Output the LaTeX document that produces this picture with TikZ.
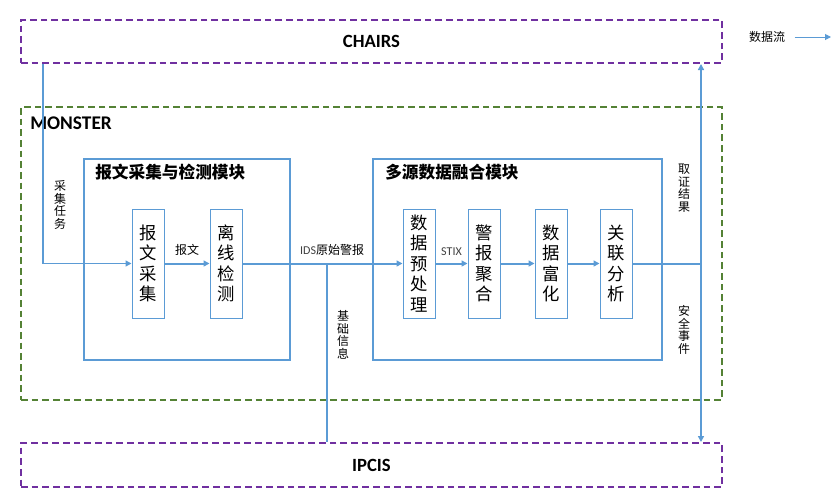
\documentclass[tikz,border=0pt]{standalone}
\usepackage{fontspec}
\setmainfont{Carlito}
\newfontfamily\cjk{Noto Sans CJK SC}
\usetikzlibrary{arrows.meta, positioning}
\definecolor{sysline}{RGB}{112,48,160}
\definecolor{monline}{RGB}{84,130,53}
\definecolor{flowblue}{RGB}{91,155,213}
\tikzstyle{sysbox} = [draw=sysline, line width=1.5pt, dash pattern=on 5pt off 3pt, minimum width=525.75pt, inner sep=0pt, font=\bfseries\fontsize{14}{16}\selectfont]
\tikzstyle{monbox} = [draw=monline, line width=1.5pt, dash pattern=on 5pt off 3pt, minimum width=525.75pt, minimum height=219.75pt, inner sep=0pt]
\tikzstyle{modbox} = [draw=flowblue, line width=1.5pt, minimum height=150.75pt, inner sep=0pt]
\tikzstyle{modtitle} = [anchor=west, inner sep=0pt, font=\cjk\bfseries\fontsize{12.5}{14}\selectfont]
\tikzstyle{procbox} = [draw=flowblue, line width=0.75pt, minimum width=24pt, minimum height=81.75pt, inner sep=0pt, align=center, font=\cjk\fontsize{13}{15.3}\selectfont]
\tikzstyle{lbl} = [font=\cjk\fontsize{9}{9.4}\selectfont]
\tikzstyle{vlbl} = [align=center, inner sep=0pt, font=\cjk\fontsize{9}{9.4}\selectfont]
\tikzstyle{flow} = [-{Triangle[length=4.5pt, width=4.5pt]}, draw=flowblue, line width=1.5pt]
\tikzstyle{link} = [draw=flowblue, line width=1.1pt]

\begin{document}
\begin{tikzpicture}[x=0.75pt, y=-0.75pt]
    \useasboundingbox (0,0) rectangle (833,504);
    % systems
    \node[sysbox, minimum height=32.25pt] (chairs) at (371.5,41.5) {CHAIRS};
    \node[monbox] (monster) at (371.5,253.5) {};
    \node[anchor=west, inner sep=0pt, font=\bfseries\fontsize{14.5}{16}\selectfont] (montitle) at (30,123) {MONSTER};
    \node[sysbox, minimum height=33pt] (ipcis) at (371.5,465) {IPCIS};
    % modules
    \node[modbox, minimum width=154.5pt] (capmod) at (187,259.5) {};
    \node[modtitle] (captitle) at (95,172) {报文采集与检测模块};
    \node[modbox, minimum width=216.75pt] (fusemod) at (517.5,259.5) {};
    \node[modtitle] (fusetitle) at (385,172) {多源数据融合模块};
    % steps
    \node[procbox] (collect) at (148,263.5) {报\\文\\采\\集};
    \node[procbox, right=33.75pt of collect] (detect) {离\\线\\检\\测};
    \node[procbox] (prep) at (419,263.5) {数\\据\\预\\处\\理};
    \node[procbox, right=24pt of prep] (aggr) {警\\报\\聚\\合};
    \node[procbox, right=25.5pt of aggr] (enrich) {数\\据\\富\\化};
    \node[procbox, right=24pt of enrich] (corr) {关\\联\\分\\析};
    % data flow
    \draw[flow, line width=1.1pt] (chairs.south west) ++(23,0) |- (collect.west);
    \node[vlbl] (tasktxt) at (60,205) {采\\集\\任\\务};
    \draw[flow] (collect) -- node[lbl, above=2pt] {报文} (detect);
    \draw[flow] (detect) -- node[lbl, above=2pt, pos=0.56] {{\rmfamily\color{black!75}IDS}原始警报} (prep);
    \coordinate (tap) at (327,263.5);
    \draw[link] (tap) -- (tap |- ipcis.north);
    \node[vlbl] (basetxt) at (343,335) {基\\础\\信\\息};
    \draw[flow] (prep) -- node[lbl, above=2pt] {\rmfamily\color{black!75}STIX} (aggr);
    \draw[flow] (aggr) -- (enrich);
    \draw[flow] (enrich) -- (corr);
    \coordinate (split) at (701,263.5);
    \draw[link, line width=1.5pt] (corr) -- (split);
    \draw[flow, line width=1.1pt] (split) -- (split |- chairs.south);
    \draw[flow, line width=1.1pt] (split) -- (split |- ipcis.north);
    \node[vlbl] (evidtxt) at (684,188) {取\\证\\结\\果};
    \node[vlbl] (eventtxt) at (684,330) {安\\全\\事\\件};
    % legend
    \node[lbl, inner sep=0pt] (legend) at (767,37) {数据流};
    \coordinate (legendtip) at (831,37);
    \draw[flow, line width=0.75pt] ([xshift=7pt]legend.east) -- (legendtip);
\end{tikzpicture}
\end{document}
